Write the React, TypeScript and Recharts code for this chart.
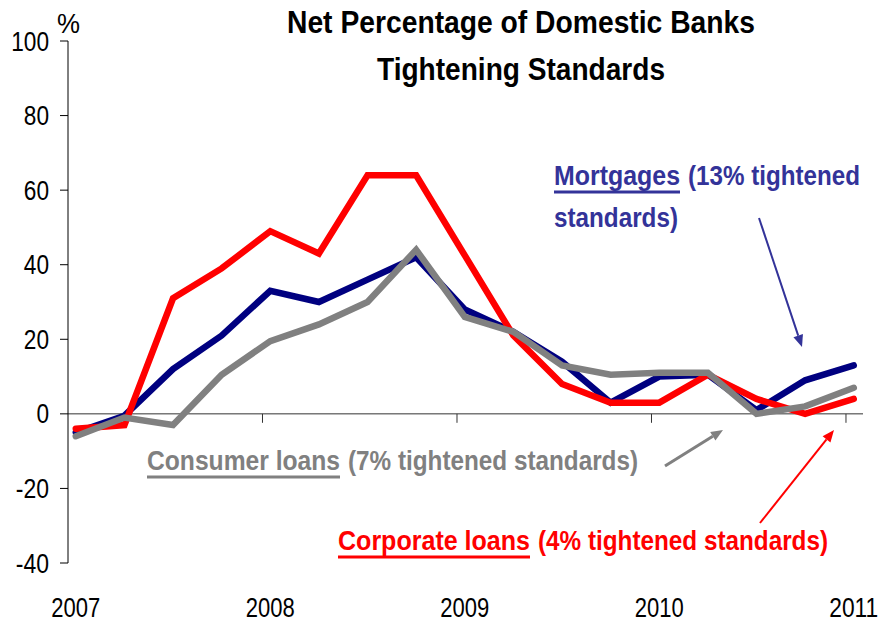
import React from "react";
import { LineChart, Line, XAxis, YAxis, ReferenceLine } from "recharts";

// Quarterly survey results, 2007 Q1 .. 2011 Q1
const quarters = [
  "2007 Q1", "2007 Q2", "2007 Q3", "2007 Q4",
  "2008 Q1", "2008 Q2", "2008 Q3", "2008 Q4",
  "2009 Q1", "2009 Q2", "2009 Q3", "2009 Q4",
  "2010 Q1", "2010 Q2", "2010 Q3", "2010 Q4",
  "2011 Q1",
];
const mortgages = [-5, -0.5, 12, 21, 33, 30, 36, 42, 28, 22, 14, 3, 10, 10.5, 1, 9, 13];
const consumerLoans = [-6, -1, -3, 10.5, 19.5, 24, 30, 44, 26, 22, 13, 10.5, 11, 11, 0, 2, 7];
const corporateLoans = [-4, -3, 31, 39, 49, 43, 64, 64, 42.5, 21, 8, 3, 3, 10.5, 4, 0, 4];

const yearLabels = ["2007", "2008", "2009", "2010", "2011"];
const yearBoundaries = [2008, 2009, 2010, 2011];
const yTicks = [-40, -20, 0, 20, 40, 60, 80, 100];

const FONT = '"Liberation Sans", Arial, sans-serif';
const NAVY = "#000080";
const RED = "#ff0000";
const GREY = "#808080";
const MORT_TEXT = "#333399";

// survey points sit a little after the start of each quarter
const data = quarters.map((q, i) => ({
  quarter: q,
  t: 2007.04 + i * 0.25,
  mortgages: mortgages[i],
  consumer: consumerLoans[i],
  corporate: corporateLoans[i],
}));

const YearTick = (props: any) => {
  const { x, payload } = props;
  return (
    <text
      x={x}
      y={617}
      textAnchor="middle"
      fontSize={27}
      fontFamily={FONT}
      fill="#000"
      textLength={49}
      lengthAdjust="spacingAndGlyphs"
    >
      {Math.floor(payload.value)}
    </text>
  );
};

const ValueTick = (props: any) => {
  const { x, y, payload } = props;
  const s = String(payload.value);
  const w = s.split("").reduce((acc, c) => acc + (c === "-" ? 8 : 12.6), 0);
  return (
    <text
      x={x}
      y={y}
      dy="0.355em"
      textAnchor="end"
      fontSize={27}
      fontFamily={FONT}
      fill="#000"
      textLength={w}
      lengthAdjust="spacingAndGlyphs"
    >
      {s}
    </text>
  );
};

const Arrow = ({ x1, y1, x2, y2, color, w }: any) => {
  const a = Math.atan2(y2 - y1, x2 - x1);
  const len = 12;
  const half = 5;
  const bx = x2 - len * Math.cos(a);
  const by = y2 - len * Math.sin(a);
  const px = -Math.sin(a) * half;
  const py = Math.cos(a) * half;
  return (
    <g>
      <line x1={x1} y1={y1} x2={bx} y2={by} stroke={color} strokeWidth={w} />
      <polygon points={`${x2},${y2} ${bx + px},${by + py} ${bx - px},${by - py}`} fill={color} />
    </g>
  );
};

// label made of an underlined name and a trailing note
const Note = ({ x, y, name, nameW, rest, restX, restW, color }: any) => (
  <g fill={color}>
    <text x={x} y={y} textLength={nameW} lengthAdjust="spacingAndGlyphs">{name}</text>
    <rect x={x} y={y + 5.5} width={nameW} height={3} />
    <text x={restX} y={y} textLength={restW} lengthAdjust="spacingAndGlyphs">{rest}</text>
  </g>
);

export default function App() {
  return (
    <div style={{ position: "absolute", left: 0, top: 0, width: 884, height: 622, background: "#fff" }}>
      <LineChart
        width={884}
        height={622}
        data={data}
        margin={{ top: 41, right: 21, left: 0, bottom: 0 }}
      >
        <XAxis
          dataKey="t"
          type="number"
          domain={[2007, 2011.0875]}
          ticks={yearLabels.map((y) => Number(y) + 0.04)}
          tick={<YearTick />}
          axisLine={false}
          tickLine={false}
          height={59}
          interval={0}
        />
        <YAxis
          domain={[-40, 100]}
          ticks={yTicks}
          width={68}
          interval={0}
          tickSize={8}
          tickMargin={11}
          axisLine={{ stroke: "#000", strokeWidth: 1 }}
          tickLine={{ stroke: "#000", strokeWidth: 1 }}
          tick={<ValueTick />}
        />
        <ReferenceLine y={0} stroke="#333" strokeWidth={1} />
        {yearBoundaries.map((yr) => (
          <ReferenceLine
            key={yr}
            segment={[{ x: yr, y: 0 }, { x: yr, y: -2.4 }]}
            stroke="#333"
            strokeWidth={1}
            ifOverflow="visible"
          />
        ))}
        <Line dataKey="mortgages" stroke={NAVY} strokeWidth={6.5} strokeLinecap="round" dot={false} isAnimationActive={false} />
        <Line dataKey="corporate" stroke={RED} strokeWidth={6.5} strokeLinecap="round" dot={false} isAnimationActive={false} />
        <Line dataKey="consumer" stroke={GREY} strokeWidth={6.5} strokeLinecap="round" dot={false} isAnimationActive={false} />
      </LineChart>

      <svg width={884} height={622} style={{ position: "absolute", left: 0, top: 0, pointerEvents: "none" }}>
        <text x={57} y={33} fontSize={27} fontFamily={FONT} fill="#000" textLength={23} lengthAdjust="spacingAndGlyphs">%</text>
        <g fontFamily={FONT} fontWeight="bold" fill="#000" fontSize={31}>
          <text x={287} y={33} textLength={468} lengthAdjust="spacingAndGlyphs">Net Percentage of Domestic Banks</text>
          <text x={377} y={80} textLength={288} lengthAdjust="spacingAndGlyphs">Tightening Standards</text>
        </g>
        <g fontFamily={FONT} fontWeight="bold" fontSize={28}>
          <Note x={554} y={185} name="Mortgages" nameW={126} rest="(13% tightened" restX={688} restW={172} color={MORT_TEXT} />
          <text x={554} y={227} fill={MORT_TEXT} textLength={124} lengthAdjust="spacingAndGlyphs">standards)</text>
          <Note x={147} y={470} name="Consumer loans" nameW={193} rest="(7% tightened standards)" restX={348} restW={290} color={GREY} />
          <Note x={338} y={550} name="Corporate loans" nameW={192} rest="(4% tightened standards)" restX={538} restW={290} color={RED} />
        </g>
        <Arrow x1={759} y1={218} x2={802} y2={347} color={MORT_TEXT} w={2} />
        <Arrow x1={665} y1={466} x2={723} y2={430} color={GREY} w={3} />
        <Arrow x1={760} y1={523} x2={834} y2={430} color={RED} w={2} />
      </svg>
    </div>
  );
}
